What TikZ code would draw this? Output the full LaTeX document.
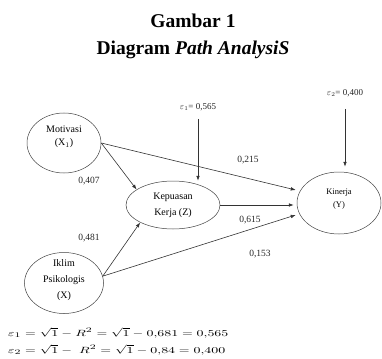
\documentclass[tikz,border=0pt]{standalone}
\usepackage{fontspec}
\setmainfont{Liberation Serif}
\usetikzlibrary{arrows.meta,shapes.geometric,calc}
\begin{document}
\begin{tikzpicture}[x=1pt,y=-1pt,
  line/.style={draw=black!80, line width=0.6pt},
  arr/.style={line, -{Latex[length=5pt,width=3.6pt]}},
  var/.style={draw=black!75, line width=0.5pt, ellipse, inner sep=0pt},
  txt/.style={align=center, inner sep=0pt, font=\fontsize{10}{13}\selectfont},
  coef/.style={inner sep=0pt, font=\fontsize{9.5}{11}\selectfont, text=black!85},
  errlab/.style={inner sep=0pt, font=\fontsize{9}{11}\selectfont, text=black!85},
  eqn/.style={anchor=west, inner sep=0pt, font=\fontsize{9.5}{12}\selectfont},
  title/.style={anchor=base, inner sep=0pt, font=\fontsize{19.5}{24}\bfseries\selectfont}
]
\useasboundingbox (0,0) rectangle (382,358);

% titles
\node[title] (t1) at (193,28) {Gambar 1};
\node[title] (t2) at (193,55) {Diagram \textit{Path AnalysiS}};

% variables
\node[var, minimum width=74pt, minimum height=60pt] (mot) at (64,143) {};
\node[txt] (motT) at (64,137) {Motivasi\\(X$_1$)};

\node[var, minimum width=94pt, minimum height=48pt] (kep) at (173,205) {};
\node[txt, font=\fontsize{10}{16}\selectfont] (kepT) at (173,205) {Kepuasan\\Kerja (Z)};

\node[var, minimum width=84pt, minimum height=62pt] (kin) at (339,203) {};
\node[txt, font=\fontsize{8.5}{13}\selectfont] (kinT) at (339,199) {Kinerja\\(Y)};

\node[var, minimum width=79pt, minimum height=61pt] (ikl) at (64,283) {};
\node[txt, font=\fontsize{10}{16}\selectfont] (iklT) at (64,280) {Iklim\\Psikologis\\(X)};

% error terms
\node[errlab] (e1) at (198,107) {$\varepsilon_1$= 0,565};
\node[errlab] (e2) at (345,93) {$\varepsilon_2$= 0,400};

\coordinate (e1top) at ($(e1.south)+(0,8)$);
\coordinate (e2top) at ($(e2.south)+(0,12)$);
\draw[arr] (e1top) -- (e1top |- kep.north);
\draw[arr] (e2top) -- ($(e2top |- kin.north)+(0,-5)$);

% paths
\draw[arr] (mot.east) -- (kep.157);
\draw[arr] (mot.east) -- ($(kin.west)+(-1,-13)$);
\draw[arr] (kep.east) -- ($(kep.east -| kin.west)+(-3,0)$);
\draw[arr] (ikl.10) -- (kep.208);
\draw[arr] (ikl.10) -- ($(kin.west)+(-1,12)$);

% coefficients
\node[coef] (c1) at (89,181) {0,407};
\node[coef] (c2) at (89,238) {0,481};
\node[coef] (c3) at (248,160) {0,215};
\node[coef] (c4) at (250,220) {0,615};
\node[coef] (c5) at (260,254) {0,153};

% equations
\node[eqn] (eq1) at (8,333)
  {\scalebox{1.5}[1]{$\varepsilon_1 = \sqrt{1} - R^2 = \sqrt{1} - 0{,}681 = 0{,}565$}};
\node[eqn] (eq2) at (8,350)
  {\scalebox{1.5}[1]{$\varepsilon_2 = \sqrt{1} - \;R^2 = \sqrt{1} - 0{,}84 = 0{,}400$}};
\end{tikzpicture}
\end{document}
